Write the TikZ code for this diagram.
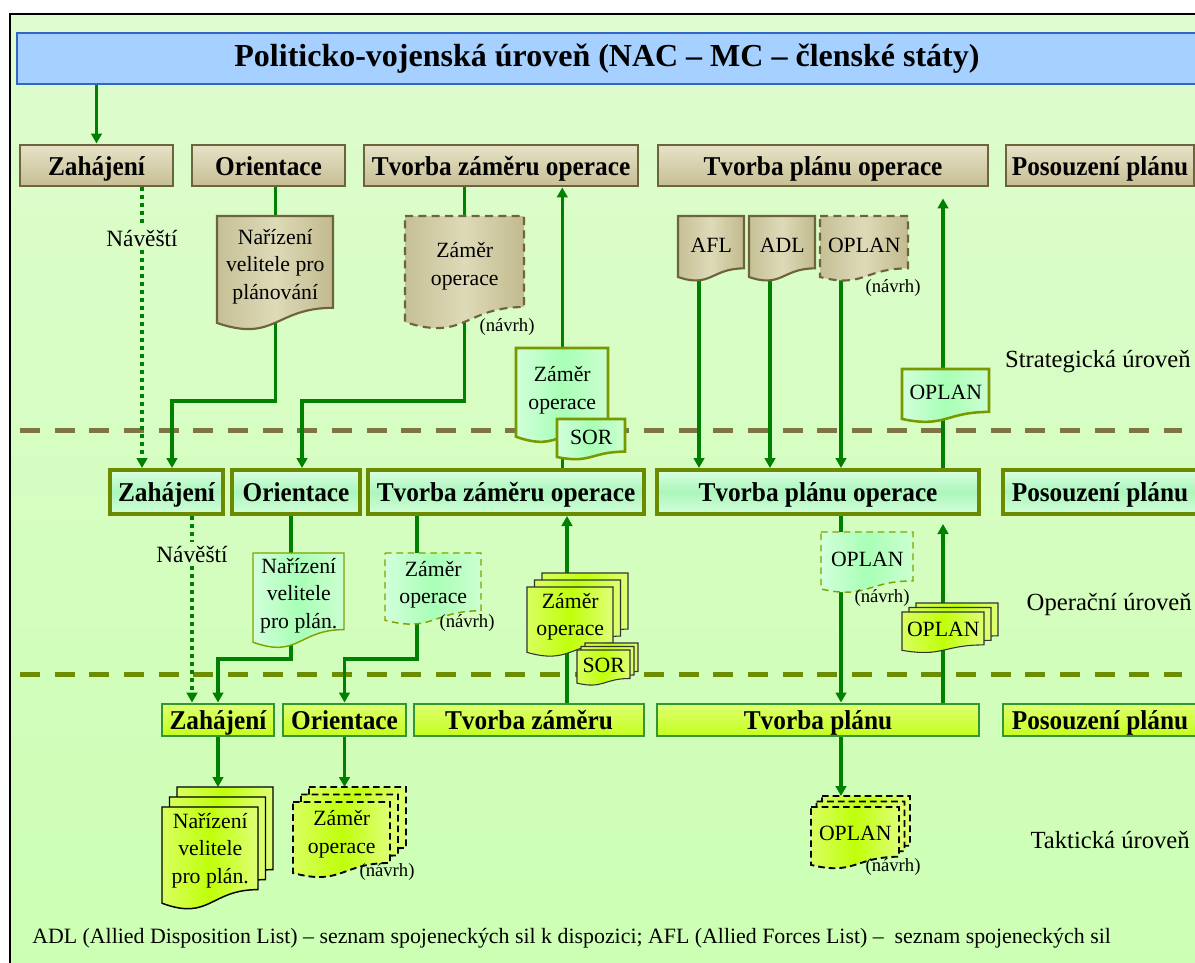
\documentclass[tikz,border=0pt]{standalone}
\usepackage{fontspec}
\setmainfont{Liberation Serif}
\newfontfamily\bxfont[FakeStretch=0.93]{Liberation Serif}
\usetikzlibrary{arrows.meta,calc}

\pgfdeclarelayer{page}
\pgfdeclarelayer{conn}
\pgfdeclarelayer{shapes}
\pgfsetlayers{page,conn,shapes,main}

\definecolor{pgT}{RGB}{222,252,206}
\definecolor{pgB}{RGB}{204,255,179}
\definecolor{banF}{RGB}{166,208,255}
\definecolor{banB}{RGB}{51,102,204}
\definecolor{conn}{RGB}{0,128,0}
\definecolor{khB}{RGB}{110,100,60}
\definecolor{khT}{RGB}{230,226,198}
\definecolor{khBot}{RGB}{198,190,148}
\definecolor{kdL}{RGB}{198,192,150}
\definecolor{kdM}{RGB}{222,218,184}
\definecolor{kdR}{RGB}{194,186,142}
\definecolor{sepK}{RGB}{127,116,67}
\definecolor{sepG}{RGB}{110,140,0}
\definecolor{gdB}{RGB}{120,152,0}
\definecolor{gdL}{RGB}{210,255,218}
\definecolor{gdM}{RGB}{168,255,182}
\definecolor{gdR}{RGB}{204,255,208}
\definecolor{opB}{RGB}{108,138,0}
\definecolor{opT}{RGB}{216,255,224}
\definecolor{opM}{RGB}{172,246,188}
\definecolor{opBot}{RGB}{210,255,218}
\definecolor{odB}{RGB}{130,160,0}
\definecolor{yL}{RGB}{216,255,96}
\definecolor{yM}{RGB}{192,255,10}
\definecolor{yR}{RGB}{222,255,120}
\definecolor{tT}{RGB}{222,255,112}
\definecolor{tBot}{RGB}{196,255,30}
\definecolor{tB}{RGB}{50,150,50}

\tikzset{
  arr/.style={draw=conn, line width=2.5pt, -{Triangle[length=7.5pt,width=8pt]}},
  ln/.style={draw=conn, line width=2.5pt},
  dotl/.style={draw=conn, line width=3pt, dash pattern=on 3pt off 3pt},
  dotarr/.style={dotl, -{Triangle[length=7.5pt,width=8pt]}},
  sep1/.style={draw=sepK, line width=3.75pt, dash pattern=on 15pt off 11pt},
  sep2/.style={draw=sepG, line width=3.75pt, dash pattern=on 15pt off 11pt},
  banner/.style={draw=banB, line width=1.5pt, fill=banF, inner sep=0},
  boxtext/.style={inner sep=0, text height=17pt, text depth=2.5pt, font=\bxfont\bfseries\fontsize{20.4}{23}\selectfont},
  sbox/.style={boxtext, draw=khB, line width=2.2pt, top color=khT, bottom color=khBot},
  obox/.style={boxtext, draw=opB, line width=3pt, top color=opT, bottom color=opBot, middle color=opM},
  tbox/.style={boxtext, draw=tB, line width=2.2pt, top color=tT, bottom color=tBot},
  kdoc/.style={draw=khB, line width=1.6pt, left color=kdL, right color=kdR, middle color=kdM},
  kdocd/.style={kdoc, dash pattern=on 6pt off 4pt},
  gdoc/.style={draw=gdB, line width=1.9pt, left color=gdL, right color=gdR, middle color=gdM},
  odoc/.style={draw=odB, line width=1.1pt, left color=gdL, right color=gdR, middle color=gdM},
  odocd/.style={odoc, dash pattern=on 5pt off 3.5pt},
  ydoc/.style={draw=black!80, line width=0.8pt, left color=yL, right color=yR, middle color=yM},
  tdoc/.style={draw=black, line width=1.1pt, left color=yL, right color=yR, middle color=yM},
  tdocd/.style={tdoc, line width=1.4pt, dash pattern=on 5pt off 3pt},
  doctext/.style={inner sep=0, align=center, text=black, font=\fontsize{16.3}{20.6}\selectfont},
  navrh/.style={inner sep=0, font=\fontsize{14}{16}\selectfont},
  navl/.style={inner xsep=1pt, inner ysep=2.5pt, font=\fontsize{17.5}{20}\selectfont},
  lvl/.style={inner sep=0, font=\fontsize{18.5}{22}\selectfont},
  foot/.style={inner sep=0, font=\fontsize{16.4}{19}\selectfont},
}

% document shape: x0 y0 w h (pixels, y downwards)
\newcommand\docshape[5]{\path[#1] ({#2},{#3}) -- ({#2+#4},{#3}) -- ({#2+#4},{#3+0.802*#5}) .. controls ({#2+0.5*#4},{#3+0.802*#5}) and ({#2+0.5*#4},{#3+1.108*#5}) .. ({#2},{#3+0.934*#5}) -- cycle;}

\newcommand\Doc[7][]{%
  \begin{pgfonlayer}{shapes}\docshape{#1}{#3}{#4}{#5}{#6}\end{pgfonlayer}
  \node[doctext, minimum width={(#5)*0.75pt}, minimum height={0.88*(#6)*0.75pt}, anchor=north west] (#2) at ({#3},{#4}) {#7};}

\newcommand\Stack[9][]{%
  \begin{pgfonlayer}{shapes}
    \docshape{#1}{#3+2*#7}{#4+2*#8}{#5}{#6}
    \docshape{#1}{#3+#7}{#4+#8}{#5}{#6}
    \docshape{#1}{#3}{#4}{#5}{#6}
  \end{pgfonlayer}
  \node[doctext, minimum width={(#5)*0.75pt}, minimum height={0.84*(#6)*0.75pt}, anchor=north west] (#2) at ({#3},{#4}) {#9};
  \coordinate (#2top) at ({#3+0.5*#5},{#4+2*#8});}

\newcommand\Bx[7][]{\node[#1, minimum width={(#4-#3)*0.75pt}, minimum height={(#6-#5)*0.75pt}] (#2) at ({(#3+#4)/2},{(#5+#6)/2}) {#7};}

\begin{document}
\begin{tikzpicture}[x=0.75pt,y=-0.75pt]
\useasboundingbox (0,0) rectangle (1195,963);

\begin{pgfonlayer}{page}
  \fill[top color=pgT, bottom color=pgB] (10,14) rectangle (1205,975);
  \draw[line width=1.5pt] (10,980) -- (10,14) -- (1205,14);
  \draw[sep1] (20,430) -- (1182,430);
  \draw[sep2] (20,674) -- (1182,674);
\end{pgfonlayer}

% banner
\Bx[banner]{ban}{17}{1205}{33}{84}{}
\node[inner sep=0, font=\bfseries\fontsize{24}{28}\selectfont] (bantxt) at (607,58.5) {Politicko-vojensk\'a \'urove\v{n} (NAC -- MC -- \v{c}lensk\'e st\'aty)};

% strategic boxes
\Bx[sbox]{sZ}{20}{173}{145}{186}{Zahájení}
\Bx[sbox]{sO}{192}{345}{145}{186}{Orientace}
\Bx[sbox]{sTZ}{364}{638}{145}{186}{Tvorba záměru operace}
\Bx[sbox]{sTP}{658}{988}{145}{186}{Tvorba plánu operace}
\Bx[sbox]{sP}{1006}{1194}{145}{186}{Posouzení plánu}

% operational boxes
\Bx[obox]{oZ}{110}{223}{470}{514}{Zahájení}
\Bx[obox]{oO}{232}{360}{470}{514}{Orientace}
\Bx[obox]{oTZ}{368}{644}{470}{514}{Tvorba záměru operace}
\Bx[obox]{oTP}{657}{979}{470}{514}{Tvorba plánu operace}
\Bx[obox]{oP}{1003}{1197}{470}{514}{Posouzení plánu}

% tactical boxes
\Bx[tbox]{tZ}{162}{274}{704}{736}{Zahájení}
\Bx[tbox]{tO}{283}{406}{704}{736}{Orientace}
\Bx[tbox]{tTZ}{414}{644}{704}{736}{Tvorba záměru}
\Bx[tbox]{tTP}{657}{979}{704}{736}{Tvorba plánu}
\Bx[tbox]{tP}{1003}{1197}{704}{736}{Posouzení plánu}

% strategic documents
\Doc[kdoc]{dNar}{217}{216}{116}{114.5}{Nařízení\\velitele pro\\plánování}
\Doc[kdocd]{dZam}{405}{216}{119}{113.5}{Záměr\\operace}
\node[navrh] (nv1) at (507,327) {(návrh)};
\Doc[kdoc]{dAFL}{678}{216}{66}{65.3}{AFL}
\Doc[kdoc]{dADL}{749}{216}{66}{65.3}{ADL}
\Doc[kdocd]{dOPd}{820}{216}{88}{65.3}{OPLAN}
\node[navrh] (nv2) at (893,288) {(návrh)};
\Doc[gdoc]{gZam}{516}{348}{92}{95}{Záměr\\operace}
\Doc[gdoc]{gSOR}{557}{419}{68}{40.7}{SOR}
\Doc[gdoc]{gOP}{902}{369}{87}{53.5}{OPLAN}

% operational documents
\Doc[odoc]{oNar}{253}{553}{91}{95.5}{Nařízení\\velitele\\pro plán.}
\Doc[odocd]{oZam}{385}{553}{96}{72}{Záměr\\operace}
\node[navrh] (nv3) at (467,623) {(návrh)};
\Stack[ydoc]{oZS}{527}{587}{86}{70}{7.5}{-7}{Záměr\\operace}
\Stack[ydoc]{oSS}{577}{650}{53}{35.5}{4}{-3.5}{SOR}
\Doc[odocd]{oOPd}{821}{532}{92}{61}{OPLAN}
\node[navrh] (nv4) at (882,598) {(návrh)};
\Stack[ydoc]{oOS}{902}{612}{82}{41}{7}{-4.5}{OPLAN}

% tactical documents
\Stack[tdoc]{tNS}{162}{807}{96}{103}{7.5}{-10}{Nařízení\\velitele\\pro plán.}
\Stack[tdocd]{tZS}{293}{802}{97}{76}{8}{-7.5}{Záměr\\operace}
\node[navrh] (nv5) at (387,872) {(návrh)};
\Stack[tdocd]{tOS}{811}{807}{88}{62}{5.5}{-5.5}{OPLAN}
\node[navrh] (nv6) at (893,867) {(návrh)};

% labels
\node[navl] (nav1) at (142,238) {Návěští};
\node[navl] (nav2) at (192,554) {Návěští};
\node[lvl, anchor=east] (lS) at (1191,362) {Strategická úroveň};
\node[lvl, anchor=east] (lO) at (1192,605) {Operační úroveň};
\node[lvl, anchor=east] (lT) at (1190,840) {Taktická úroveň};
\node[foot, anchor=west] (ft) at (32,938) {ADL (Allied Disposition List) -- seznam spojeneckých sil k dispozici; AFL (Allied Forces List) -- \ seznam spojeneckých sil};

% helper x positions and junction heights
\coordinate (j1) at (0,401);
\coordinate (j2) at (0,659);
\coordinate (c291) at (291,0);
\coordinate (c417) at (417,0);
\coordinate (c567) at (567,0);
\coordinate (c699) at (699,0);
\coordinate (c770) at (770,0);
\coordinate (c841) at (841,0);
\coordinate (c943) at (943,0);

\begin{pgfonlayer}{conn}
  \draw[arr] (sZ |- ban.south) -- (sZ.north);
  \draw[dotl] (nav1 |- sZ.south) -- (nav1.north);
  \draw[dotarr] (nav1.south) -- (nav1 |- oZ.north);
  \draw[ln] (dNar |- sO.south) -- (dNar.north);
  \draw[arr] (dNar.center) -- (dNar |- j1) -| ([xshift=4.1pt]oZ.north);
  \draw[ln] (dZam |- sTZ.south) -- (dZam.north);
  \draw[arr] (dZam.center) -- (dZam |- j1) -| ([xshift=4.5pt]oO.north);
  \draw[arr] (gZam |- oTZ.north) -- (gZam |- sTZ.south);
  \draw[arr] (c699 |- dAFL.center) -- (c699 |- oTP.north);
  \draw[arr] (c770 |- dADL.center) -- (c770 |- oTP.north);
  \draw[arr] (c841 |- dOPd.center) -- (c841 |- oTP.north);
  \draw[arr] (c943 |- oTP.north) -- ($(c943 |- sTP.south)+(0,11)$);
  \draw[dotl] (nav2 |- oZ.south) -- (nav2.north);
  \draw[dotarr] (nav2.south) -- (nav2 |- tZ.north);
  \draw[ln] (c291 |- oO.south) -- (c291 |- oNar.north);
  \draw[arr] (c291 |- oNar.center) -- (c291 |- j2) -| (tZ.north);
  \draw[ln] (c417 |- oTZ.south) -- (c417 |- oZam.north);
  \draw[arr] (c417 |- oZam.center) -- (c417 |- j2) -| (tO.north);
  \draw[arr] (c567 |- tTZ.north) -- (c567 |- oTZ.south);
  \draw[arr] (c841 |- oTP.south) -- (c841 |- tTP.north);
  \draw[arr] (c943 |- tTP.north) -- ($(c943 |- oTP.south)+(0,8)$);
  \draw[arr] (tZ.south) -- (tZ.south |- tNStop);
  \draw[arr] (tO.south) -- (tO.south |- tZStop);
  \draw[arr] (c841 |- tTP.south) -- (c841 |- tOStop);
\end{pgfonlayer}
\end{tikzpicture}
\end{document}
